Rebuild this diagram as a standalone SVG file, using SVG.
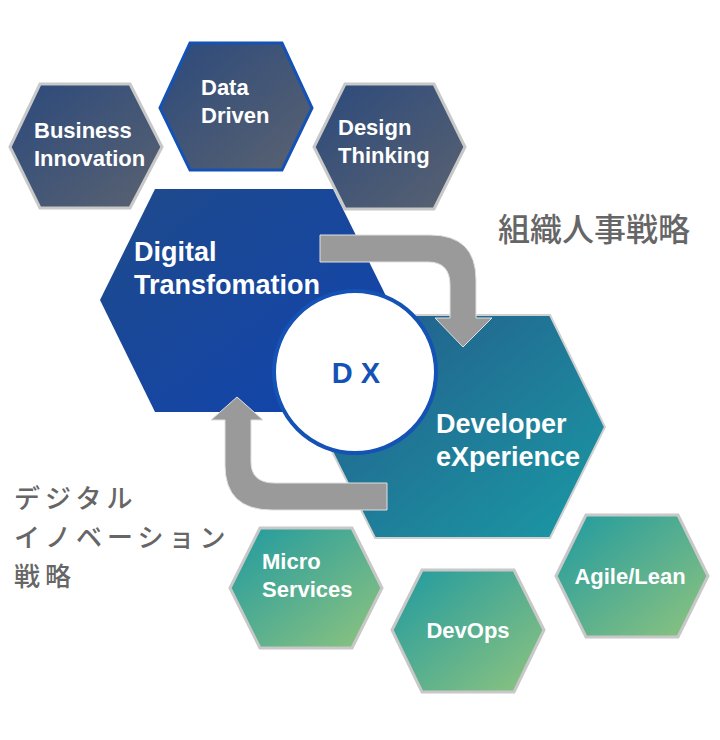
<svg xmlns="http://www.w3.org/2000/svg" width="720" height="740" viewBox="0 0 720 740">
<style>
.t{font-family:"Liberation Sans",Arial,sans-serif;font-weight:bold;fill:#fff}
.s{font-size:22px}.b{font-size:27px}
.j{font-family:"Noto Sans CJK JP",sans-serif;fill:#666;font-weight:500}
.l{font-size:26px;letter-spacing:5px}
.g{stroke:#c8c8c8;stroke-width:3}
</style>
<defs>
<linearGradient id="gs" x1="0" y1="0" x2="1" y2="1"><stop offset="0" stop-color="#2c4a7c"/><stop offset="1" stop-color="#5a6270"/></linearGradient>
<linearGradient id="gb" x1="0" y1="0" x2="1" y2="1"><stop offset="0" stop-color="#1f4a8a"/><stop offset="1" stop-color="#1044b0"/></linearGradient>
<linearGradient id="gd" x1="0" y1="0" x2="1" y2="1"><stop offset="0" stop-color="#245a8a"/><stop offset="1" stop-color="#1a9aa5"/></linearGradient>
<linearGradient id="gt" x1="0" y1="0" x2="1" y2="1"><stop offset="0" stop-color="#1f9aa0"/><stop offset="1" stop-color="#90c47e"/></linearGradient>
</defs>
<g id="business"><polygon class="g" fill="url(#gs)" points="10,147 40,84 130,84 162,147 130,208 40,208"/><text class="t s" x="34" y="138">Business</text><text class="t s" x="34" y="166">Innovation</text></g>
<g id="data"><polygon fill="url(#gs)" stroke="#1552b5" stroke-width="3" points="160,108 190,43 282,43 312,108 282,170 190,170"/><text class="t s" x="201" y="95">Data</text><text class="t s" x="201" y="123">Driven</text></g>
<g id="design"><polygon class="g" fill="url(#gs)" points="314,147 345,84 434,84 465,147 434,209 345,209"/><text class="t s" x="338" y="135">Design</text><text class="t s" x="338" y="163">Thinking</text></g>
<g id="dev"><polygon fill="url(#gd)" stroke="#d0d0d0" stroke-width="2" points="320,427 375,315 550,315 605,427 550,538 375,538"/><text class="t b" x="436" y="433">Developer</text><text class="t b" x="436" y="466">eXperience</text></g>
<g id="digital"><polygon fill="url(#gb)" points="100,300 155,189 333,189 388,300 333,412 155,412"/><text class="t b" x="134" y="261">Digital</text><text class="t b" x="134" y="294">Transfomation</text></g>
<g id="connectors" fill="#9a9a9a" stroke="#e0e0e0" stroke-width="1">
<path d="M320,235 H430 Q476,235 476,280 V318 H492 L463,347 L435,318 H450 V285 Q450,262 428,262 H320 Z"/>
<path d="M387,483 V510 H272 Q225,510 225,465 V420 H211 L237,397 L263,420 H251 V462 Q251,483 275,483 Z"/>
</g>
<g id="dx"><circle cx="355" cy="372" r="81" fill="#fff" stroke="#1552b5" stroke-width="4"/><text class="t" style="fill:#1552b5;font-size:29px" x="356" y="383" text-anchor="middle">D X</text></g>
<g id="micro"><polygon class="g" fill="url(#gt)" points="230,588 260,528 352,528 382,588 352,648 260,648"/><text class="t s" x="262" y="569">Micro</text><text class="t s" x="262" y="597">Services</text></g>
<g id="devops"><polygon class="g" fill="url(#gt)" points="392,630 422,570 514,570 544,630 514,692 422,692"/><text class="t s" x="468" y="638" text-anchor="middle">DevOps</text></g>
<g id="agile"><polygon class="g" fill="url(#gt)" points="556,576 586,515 678,515 708,576 678,637 586,637"/><text class="t s" x="630" y="584" text-anchor="middle">Agile/Lean</text></g>
<text class="j" style="font-size:32px" x="498" y="241">組織人事戦略</text>
<text class="j l" x="14" y="508">デジタル</text>
<text class="j l" x="14" y="547">イノベーション</text>
<text class="j l" x="14" y="586">戦略</text>
</svg>
